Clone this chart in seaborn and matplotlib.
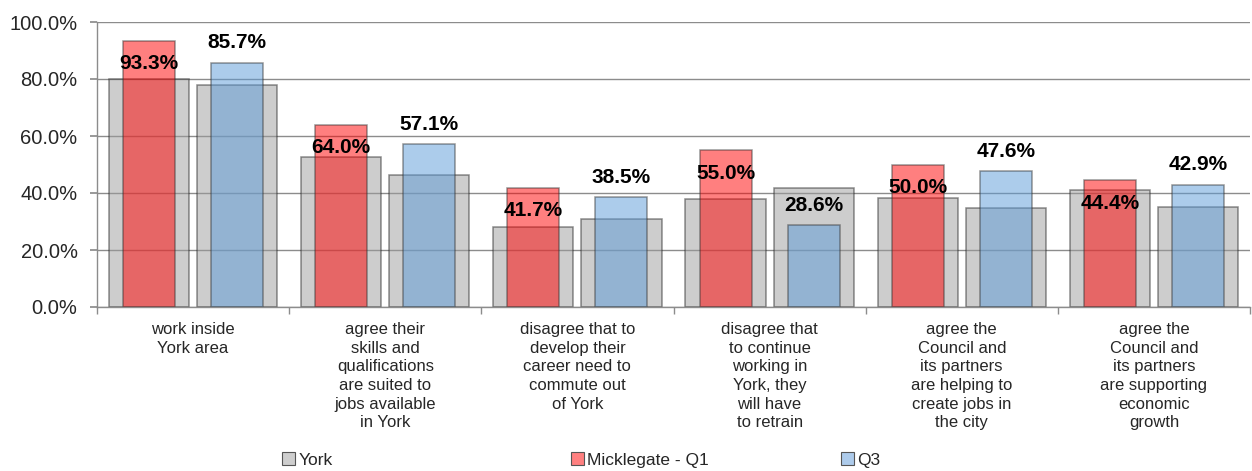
import matplotlib
matplotlib.use("Agg")
import matplotlib.pyplot as plt
import matplotlib.patches as mpatches
from matplotlib.ticker import FuncFormatter, FixedLocator
import seaborn as sns
import pandas as pd

categories = [
    "work inside\nYork area",
    "agree their\nskills and\nqualifications\nare suited to\njobs available\nin York",
    "disagree that to\ndevelop their\ncareer need to\ncommute out\nof York",
    "disagree that\nto continue\nworking in\nYork, they\nwill have\nto retrain",
    "agree the\nCouncil and\nits partners\nare helping to\ncreate jobs in\nthe city",
    "agree the\nCouncil and\nits partners\nare supporting\neconomic\ngrowth",
]
york_q1 = [79.9, 52.5, 28.0, 38.0, 38.4, 40.9]
york_q3 = [77.9, 46.2, 30.8, 41.8, 34.9, 35.0]
micklegate_q1 = [93.3, 64.0, 41.7, 55.0, 50.0, 44.4]
micklegate_q3 = [85.7, 57.1, 38.5, 28.6, 47.6, 42.9]
legend_labels = ["York", "Micklegate - Q1", "Q3"]
yticks = [0, 20, 40, 60, 80, 100]

york_df = pd.DataFrame({
    "cat": categories * 2,
    "quarter": ["Q1"] * 6 + ["Q3"] * 6,
    "value": york_q1 + york_q3,
})
mick_df = pd.DataFrame({
    "cat": categories * 2,
    "quarter": ["Q1"] * 6 + ["Q3"] * 6,
    "value": micklegate_q1 + micklegate_q3,
})

sns.set_theme(style="white")
plt.rcParams["font.family"] = ["Liberation Sans", "DejaVu Sans"]

fig = plt.figure(figsize=(12.52, 4.71), dpi=100)
ax = fig.add_axes([97 / 1252, 1 - 307 / 471, 1153 / 1252, 285 / 471])

W = 0.9167
sns.barplot(data=york_df, x="cat", y="value", hue="quarter",
            order=categories, hue_order=["Q1", "Q3"],
            palette={"Q1": "#9c9c9c", "Q3": "#9c9c9c"}, saturation=1,
            width=W, gap=0.09, alpha=0.5, edgecolor="#202020", linewidth=1.1,
            legend=False, ax=ax, errorbar=None)
sns.barplot(data=mick_df, x="cat", y="value", hue="quarter",
            order=categories, hue_order=["Q1", "Q3"],
            palette={"Q1": "#ff0000", "Q3": "#5b9bd8"}, saturation=1,
            width=W, gap=0.41, alpha=0.5, edgecolor="#303030", linewidth=1.1,
            legend=False, ax=ax, errorbar=None)

# value labels
q1_cont = ax.containers[2]
q3_cont = ax.containers[3]
for bar, v in zip(q1_cont, micklegate_q1):
    ax.text(bar.get_x() + bar.get_width() / 2, v - 8, f"{v:.1f}%",
            ha="center", va="center", fontsize=15, fontweight="bold", color="black")
for bar, v in zip(q3_cont, micklegate_q3):
    ax.text(bar.get_x() + bar.get_width() / 2, v + 7, f"{v:.1f}%",
            ha="center", va="center", fontsize=15, fontweight="bold", color="black")

ax.set_ylim(0, 100)
ax.set_xlim(-0.5, len(categories) - 0.5)
ax.set_yticks(yticks)
ax.yaxis.set_major_formatter(FuncFormatter(lambda v, p: f"{v:.1f}%"))
ax.set_xlabel("")
ax.set_ylabel("")
ax.grid(axis="y", color="#8c8c8c", linewidth=1)
ax.set_axisbelow(True)
for s in ["top", "right"]:
    ax.spines[s].set_visible(False)
for s in ["left", "bottom"]:
    ax.spines[s].set_color("#8c8c8c")
    ax.spines[s].set_linewidth(1)

ax.tick_params(axis="y", labelsize=14.5, length=5, color="#8c8c8c", pad=9, left=True)
ax.tick_params(axis="x", which="major", length=0, labelsize=12, pad=11)
ax.xaxis.set_minor_locator(FixedLocator([i - 0.5 for i in range(len(categories) + 1)]))
ax.tick_params(axis="x", which="minor", length=5, color="#8c8c8c", bottom=True)
for lab in ax.get_xticklabels():
    lab.set_linespacing(1.3)
    lab.set_verticalalignment("top")

# legend
handle_colors = ["#cecece", "#ff8080", "#adcbeb"]
xs = [282, 571, 841]
for lbl, col, xp in zip(legend_labels, handle_colors, xs):
    h = mpatches.Patch(facecolor=col, edgecolor="#555555", linewidth=0.8)
    fig.legend(handles=[h], labels=[lbl], loc="center left",
               bbox_to_anchor=(xp / 1252, 1 - 460 / 471), frameon=False,
               fontsize=12.5, handlelength=0.75, handleheight=0.75, handletextpad=0.2,
               borderpad=0, borderaxespad=0)

fig.savefig("out.png", dpi=100)
